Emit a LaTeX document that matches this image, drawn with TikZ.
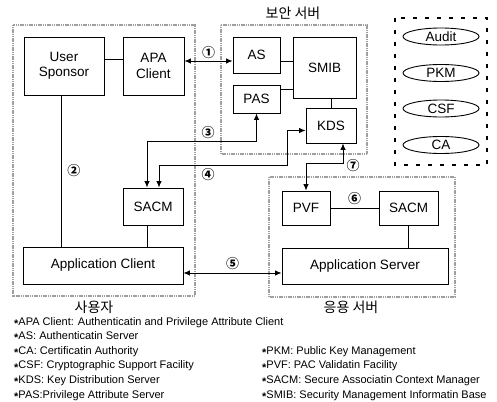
\documentclass[tikz,border=0pt]{standalone}
\usepackage{fontspec}
\setmainfont{Liberation Sans}
\newfontfamily\korfont{Noto Sans CJK KR}
\usetikzlibrary{arrows.meta, positioning, shapes, calc}
\newcommand{\lgd}{\raisebox{-0.35ex}{\bfseries *}}

\begin{document}
\begin{tikzpicture}
[
    x=1pt, y=-1pt,
    box/.style={
        draw,
        rectangle,
        line width=0.9pt,
        inner sep=0pt,
        align=center,
        font=\fontsize{13.5}{15.5}\selectfont,
    },
    tool/.style={
        draw,
        ellipse,
        line width=0.9pt,
        minimum width=76pt,
        minimum height=17pt,
        inner sep=0pt,
        font=\fontsize{13.5}{15}\selectfont,
    },
    zone/.style={draw=gray!75, line width=2.6pt, dash pattern=on 1.2pt off 0.6pt},
    toolzone/.style={draw, line width=2pt, dash pattern=on 4pt off 8pt},
    link/.style={line width=0.9pt},
    arrow/.style={{Latex[length=6.5pt,width=5.5pt]}-{Latex[length=6.5pt,width=5.5pt]}, line width=0.9pt},
    num/.style={font=\korfont\bfseries\fontsize{13}{13}\selectfont, inner sep=0pt},
    title/.style={font=\korfont\fontsize{14}{14}\selectfont, inner sep=0pt}
]
\useasboundingbox (0,0) rectangle (497,401);

% Zones
\draw[zone] (13,25) rectangle (195,296);
\draw[zone] (221,25) rectangle (367,154);
\draw[zone] (269,177) rectangle (455,297);
\draw[toolzone] (395,18) rectangle (487,165);

% Zone titles
\node[title] (sectitle) at (293,13) {보안 서버};
\node[title] (usertitle) at (94,307) {사용자};
\node[title] (apptitle) at (351,307) {응용 서버};

% Define the nodes
\node[box, minimum width=80pt, minimum height=58pt] (usersp) at (64,66) {User\\Sponsor};
\node[box, minimum width=61pt, minimum height=58pt] (apacl) at (153.5,66) {APA\\Client};
\node[box, minimum width=47pt, minimum height=36pt] (as) at (256.5,55) {AS};
\node[box, minimum width=63pt, minimum height=61pt] (smib) at (324.5,67.5) {SMIB};
\node[box, minimum width=47pt, minimum height=28pt] (pas) at (256.5,99) {PAS};
\node[box, minimum width=50pt, minimum height=35pt] (kds) at (331,125.5) {KDS};
\node[box, minimum width=60pt, minimum height=37pt] (sacmc) at (153,206.5) {SACM};
\node[box, minimum width=160pt, minimum height=37pt] (appcl) at (103,265.5) {Application Client};
\node[box, minimum width=48pt, minimum height=34pt] (pvf) at (306,208) {PVF};
\node[box, minimum width=59pt, minimum height=34pt] (sacms) at (408.5,208) {SACM};
\node[box, minimum width=166pt, minimum height=36pt] (appsv) at (365,266) {Application Server};

% Tools
\node[tool] (audit) at (441,36.5) {Audit};
\node[tool] (pkm) at (441,73) {PKM};
\node[tool] (csf) at (441,108.5) {CSF};
\node[tool] (ca) at (441,145) {CA};

% Plain links
\draw[link] ([yshift=7pt]usersp.east) -- ([yshift=7pt]apacl.west);
\draw[link] ([yshift=-6pt]as.east) -- ([yshift=-6pt]as.east -| smib.west);
\draw[link] ([yshift=10pt]pas.east) -- ([yshift=10pt]pas.east -| smib.west);
\draw[link] (kds.north) -- (kds.north |- smib.south);
\draw[link] ([xshift=-3pt]usersp.south) -- node[num, right, xshift=6pt] (n2) {②} ([xshift=-3pt]usersp.south |- appcl.north);
\draw[link] ([xshift=-6pt]sacmc.south) -- ([xshift=-6pt]sacmc.south |- appcl.north);
\draw[link] (pvf.east) -- node[num, above, yshift=3pt] (n6) {⑥} (sacms.west);
\draw[link] (sacms.south) -- (sacms.south |- appsv.north);

% Arrows
\draw[arrow] ([yshift=5pt]apacl.east) -- node[num, above, yshift=2pt] (n1) {①} ([yshift=5pt]apacl.east -| as.west);
\draw[arrow] ([xshift=-6pt]sacmc.north) -- ++(0,-46) -| (pas.south);
\node[num] (n3) at (208,133) {③};
\coordinate (bend4) at (287,165);
\draw[arrow] ([xshift=6pt]sacmc.north) |- (bend4) |- ([yshift=-5pt]kds.west);
\node[num] (n4) at (208,175) {④};
\draw[arrow] ([xshift=12pt]kds.south) -- ++(0,20) -| (pvf.north);
\node[num] (n7) at (353,166) {⑦};
\draw[arrow] ([yshift=-7.5pt]appcl.east) -- node[num, above, yshift=3pt] (n5) {⑤} ([yshift=-7.5pt]appcl.east -| appsv.west);

% Legend
\node[anchor=north west, align=left, inner sep=0pt, font=\fontsize{11}{14.6}\selectfont] (legl) at (14,317) {%
\lgd APA Client: Authenticatin and Privilege Attribute Client\\
\lgd AS: Authenticatin Server\\
\lgd CA: Certificatin Authority\\
\lgd CSF: Cryptographic Support Facility\\
\lgd KDS: Key Distribution Server\\
\lgd PAS:Privilege Attribute Server};
\node[anchor=north west, align=left, inner sep=0pt, font=\fontsize{11}{14.6}\selectfont] (legr) at (262,346.2) {%
\lgd PKM: Public Key Management\\
\lgd PVF: PAC Validatin Facility\\
\lgd SACM: Secure Associatin Context Manager\\
\lgd SMIB: Security Management Informatin Base};

\end{tikzpicture}
\end{document}
